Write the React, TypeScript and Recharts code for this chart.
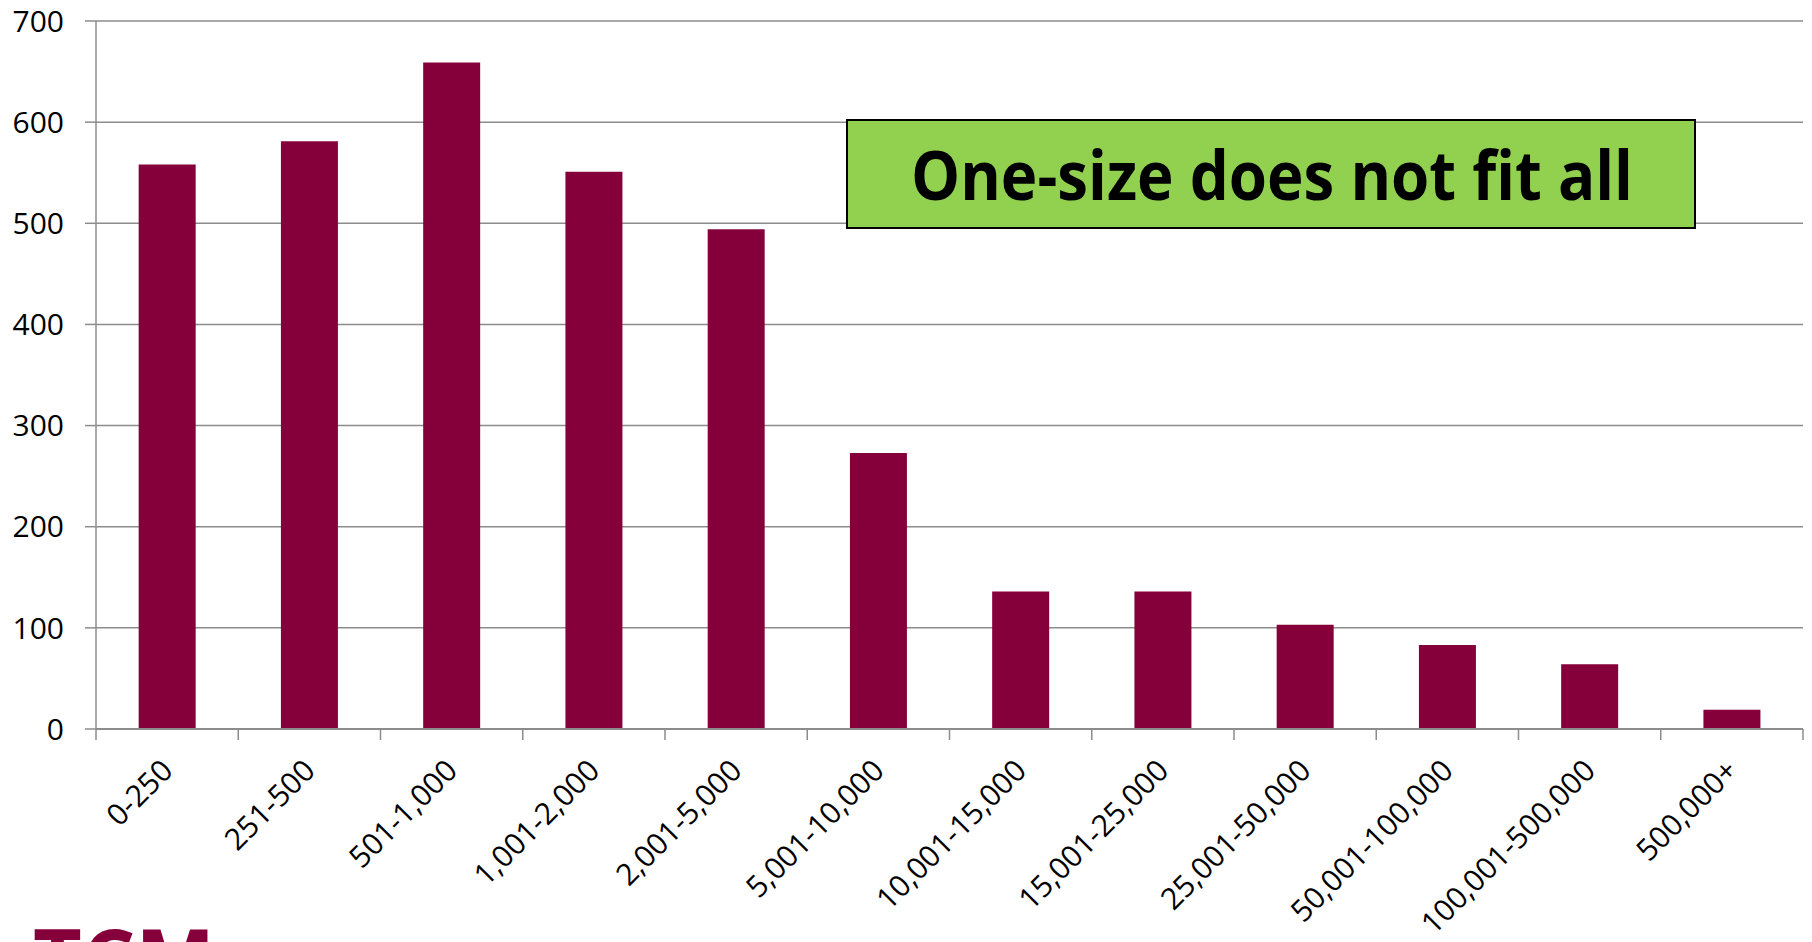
import React from 'react';
import { BarChart, Bar, XAxis, YAxis, CartesianGrid } from 'recharts';

const categories = [
  '0-250', '251-500', '501-1,000', '1,001-2,000', '2,001-5,000', '5,001-10,000',
  '10,001-15,000', '15,001-25,000', '25,001-50,000', '50,001-100,000', '100,001-500,000', '500,000+',
];
const counts = [558, 581, 659, 551, 494, 273, 136, 136, 103, 83, 64, 19];
const yTicks = [0, 100, 200, 300, 400, 500, 600, 700];
const boundaryTicks = [0, 1, 2, 3, 4, 5, 6, 7, 8, 9, 10, 11, 12];
const annotation = 'One-size does not fit all';
const logoText = 'TCM';

const data = categories.map((c, i) => ({ name: c, value: counts[i], pos: i + 0.5 }));

const FONT = '"Open Sans", "Liberation Sans", sans-serif';
const AXIS = '#8c8c8c';
const BAR = '#85003A';

const XTick = (props: any) => {
  const { x, y, payload } = props;
  return (
    <g transform={`translate(${x},${y})`}>
      <text transform="rotate(-45)" textAnchor="end" dy="0.35em" fontSize={30} fontFamily={FONT} fill="#000">
        {payload.value}
      </text>
    </g>
  );
};

export default function App() {
  return (
    <div style={{ position: 'absolute', left: 0, top: 0, width: 1812, height: 942, background: '#fff', overflow: 'hidden' }}>
      <BarChart
        width={1812}
        height={942}
        data={data}
        margin={{ top: 21, right: 9, bottom: 10, left: 0 }}
        barCategoryGap="30%"
      >
        <CartesianGrid xAxisId="cat" vertical={false} stroke={AXIS} strokeWidth={1.5} />
        <XAxis
          xAxisId="bounds"
          dataKey="pos"
          type="number"
          domain={[0, 12]}
          ticks={boundaryTicks}
          interval={0}
          allowDataOverflow
          height={1}
          tickSize={11}
          tickFormatter={() => ''}
          axisLine={{ stroke: AXIS, strokeWidth: 2 }}
          tickLine={{ stroke: AXIS, strokeWidth: 1.5 }}
        />
        <XAxis
          xAxisId="cat"
          dataKey="name"
          type="category"
          interval={0}
          height={202}
          axisLine={false}
          tickLine={false}
          tickSize={0}
          tickMargin={35}
          tick={<XTick />}
        />
        <YAxis
          domain={[0, 700]}
          ticks={yTicks}
          width={96}
          tickSize={11}
          tickMargin={21}
          axisLine={{ stroke: AXIS, strokeWidth: 1.5 }}
          tickLine={{ stroke: AXIS, strokeWidth: 1.5 }}
          tick={{ fontSize: 30, fontFamily: FONT, fill: '#000' }}
        />
        <Bar xAxisId="cat" dataKey="value" fill={BAR} isAnimationActive={false} />
      </BarChart>
      <svg width={1812} height={942} style={{ position: 'absolute', left: 0, top: 0, pointerEvents: 'none' }}>
        <rect x={847} y={120} width={848} height={108} fill="#92D050" stroke="#000" strokeWidth={2} />
        <text
          x={1272}
          y={200}
          textAnchor="middle"
          fontFamily={FONT}
          fontWeight="bold"
          fontSize={68}
          textLength={722}
          lengthAdjust="spacingAndGlyphs"
          fill="#000"
        >
          {annotation}
        </text>
        <text x={33} y={991} fontFamily={FONT} fontWeight="bold" fontSize={86} fill={BAR} textLength={182} lengthAdjust="spacingAndGlyphs">
          {logoText}
        </text>
      </svg>
    </div>
  );
}
